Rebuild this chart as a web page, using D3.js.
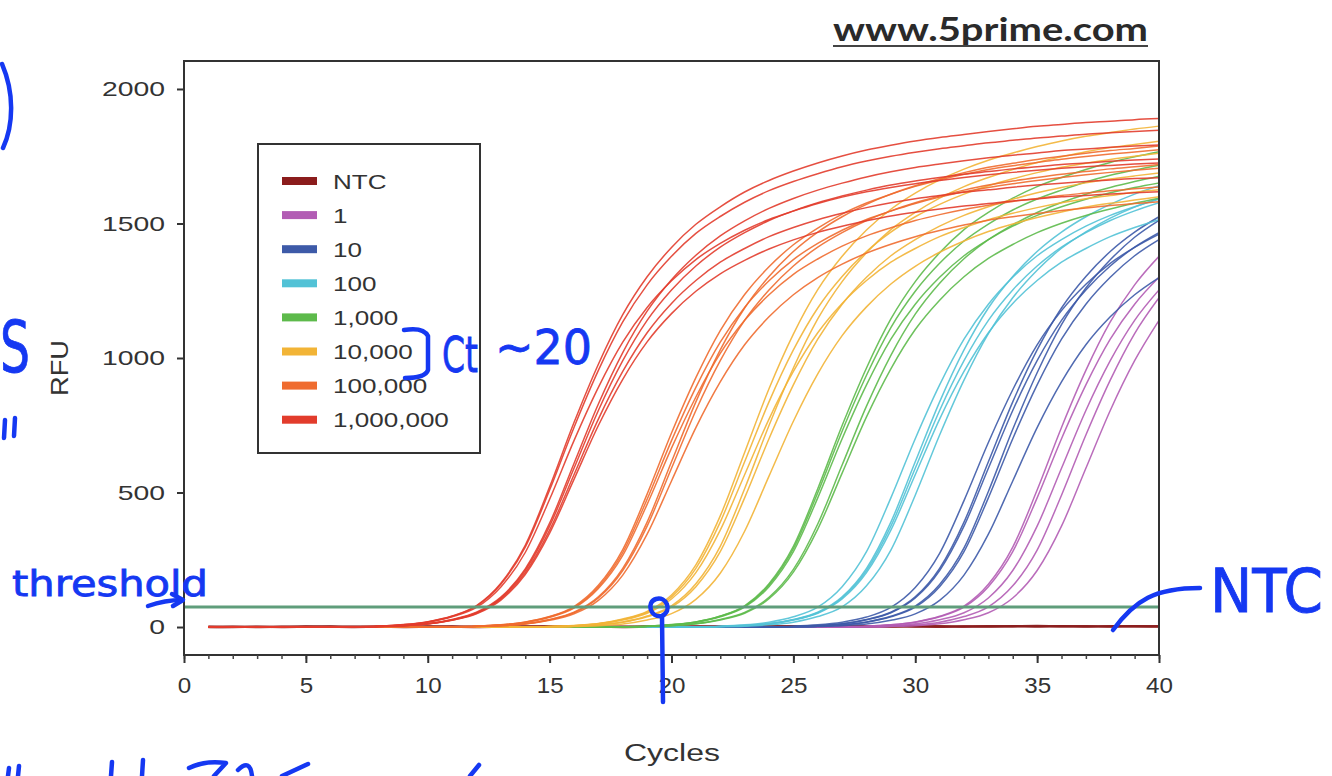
<!DOCTYPE html>
<html>
<head>
<meta charset="utf-8">
<script src="https://cdn.jsdelivr.net/npm/d3@7"></script>
<style>
  body { margin: 0; background: #fff; }
  svg { display: block; }
  text { font-family: "Liberation Sans", Arial, sans-serif; fill: #333; }
</style>
</head>
<body>
<svg id="chart" width="1332" height="776"></svg>
<script>
/* ............................................................
   qPCR amplification plot : RFU vs Cycles, 10-fold dilutions
   ............................................................ */

// x categories (cycle numbers)
var cycles = [1,2,3,4,5,6,7,8,9,10,11,12,13,14,15,16,17,18,19,20,
              21,22,23,24,25,26,27,28,29,30,31,32,33,34,35,36,37,38,39,40];

var dilutions = ["NTC", "1", "10", "100", "1,000", "10,000", "100,000", "1,000,000"];
var palette   = ["#8b1c1c", "#b25cb4", "#3d5aa8", "#52c2d6", "#5dba4b", "#f2b436", "#ef6c2f", "#e23c2c"];

var yTicks = [0, 500, 1000, 1500, 2000];
var xTicks = [0, 5, 10, 15, 20, 25, 30, 35, 40];
var threshold = 74;

// RFU read per cycle, one array per replicate well
var rfuNTC = [
  [0,1,0,1,2,1,0,1,1,2,1,0,1,2,2,1,1,0,1,2,1,1,2,3,2,1,2,2,3,2,1,2,3,3,2,3,2,3,3,2],
  [1,0,1,0,1,2,1,1,0,1,2,1,1,1,2,2,1,1,2,1,2,2,1,2,3,2,2,3,2,3,3,2,2,3,4,3,3,2,3,3]
];

var rfu1 = [
  [0,0,0,0,0,0,0,0,0,0,0,0,0,0,0,0,0,0,0,0,0,0,0,0,0,0,1,3,8,18,38,74,150,280,480,700,900,1070,1200,1300],
  [0,0,0,0,0,0,0,0,0,0,0,0,0,0,0,0,0,0,0,0,0,0,0,0,0,0,0,2,5,12,27,53,108,210,375,590,805,990,1140,1253],
  [0,0,0,0,0,0,0,0,0,0,0,0,0,0,0,0,0,0,0,0,0,0,0,0,0,0,0,1,3,8,18,39,75,153,286,490,714,918,1091,1224],
  [0,0,0,0,0,0,0,0,0,0,0,0,0,0,0,0,0,0,0,0,0,0,0,0,0,0,0,0,2,5,12,27,53,108,210,375,590,805,990,1140],
  [0,0,0,0,0,0,0,0,0,0,0,0,0,0,0,0,0,0,0,0,0,0,0,0,0,0,1,3,8,19,40,78,159,297,509,742,954,1134,1272,1378]
];

var rfu10 = [
  [0,0,0,0,0,0,0,0,0,0,0,0,0,0,0,0,0,0,0,0,0,0,0,0,2,5,12,28,55,112,218,390,614,837,1030,1186,1303,1396,1468,1525],
  [0,0,0,0,0,0,0,0,0,0,0,0,0,0,0,0,0,0,0,0,0,0,0,0,2,5,12,27,53,108,210,375,590,805,990,1140,1253,1342,1412,1466],
  [0,0,0,0,0,0,0,0,0,0,0,0,0,0,0,0,0,0,0,0,0,0,0,0,1,3,8,18,38,74,150,280,480,700,900,1070,1200,1300,1380,1440],
  [0,0,0,0,0,0,0,0,0,0,0,0,0,0,0,0,0,0,0,0,0,0,0,1,3,8,18,37,73,147,274,470,686,882,1049,1176,1274,1352,1411,1460],
  [0,0,0,0,0,0,0,0,0,0,0,0,0,0,0,0,0,0,0,0,0,0,0,0,0,2,5,11,25,49,99,193,345,543,741,911,1049,1153,1235,1299],
  [0,0,0,0,0,0,0,0,0,0,0,0,0,0,0,0,0,0,0,0,0,0,0,0,1,3,8,19,40,78,158,294,504,735,945,1124,1260,1365,1449,1512]
];

var rfu100 = [
  [0,0,0,0,0,0,0,0,0,0,0,0,0,0,0,0,0,0,0,0,0,2,5,12,28,55,112,218,390,614,837,1030,1186,1303,1396,1468,1525,1571,1609,1640],
  [0,0,0,0,0,0,0,0,0,0,0,0,0,0,0,0,0,0,0,0,0,2,5,12,27,53,108,210,375,590,805,990,1140,1253,1342,1412,1466,1511,1547,1577],
  [0,0,0,0,0,0,0,0,0,0,0,0,0,0,0,0,0,0,0,0,1,3,8,18,38,74,150,280,480,700,900,1070,1200,1300,1380,1440,1490,1530,1562,1590],
  [0,0,0,0,0,0,0,0,0,0,0,0,0,0,0,0,0,0,0,0,0,1,3,8,18,39,75,153,286,490,714,918,1091,1224,1326,1408,1469,1520,1561,1593],
  [0,0,0,0,0,0,0,0,0,0,0,0,0,0,0,0,0,0,0,0,0,2,5,12,26,51,104,202,360,566,773,950,1094,1203,1288,1356,1407,1451,1485,1514]
];

var rfu1k = [
  [0,0,0,0,0,0,0,0,0,0,0,0,0,0,0,0,0,1,3,8,19,40,77,156,291,499,728,936,1113,1248,1352,1435,1498,1550,1591,1624,1654,1679,1699,1717],
  [0,0,0,0,0,0,0,0,0,0,0,0,0,0,0,0,0,1,3,8,18,38,74,150,280,480,700,900,1070,1200,1300,1380,1440,1490,1530,1562,1590,1614,1634,1651],
  [0,0,0,0,0,0,0,0,0,0,0,0,0,0,0,0,0,0,2,5,12,28,54,110,214,383,602,821,1010,1163,1278,1369,1440,1495,1541,1578,1609,1634,1656,1676],
  [0,0,0,0,0,0,0,0,0,0,0,0,0,0,0,0,0,1,3,9,19,41,79,161,300,514,749,963,1145,1284,1391,1477,1541,1594,1637,1671,1701,1727,1748,1767],
  [0,0,0,0,0,0,0,0,0,0,0,0,0,0,0,0,0,0,2,5,12,26,51,105,204,364,572,781,960,1106,1215,1302,1370,1422,1466,1501,1530,1554,1575,1594]
];

var rfu10k = [
  [0,0,0,0,0,0,0,0,0,0,0,0,0,0,2,6,13,30,58,119,231,413,649,886,1089,1254,1378,1476,1553,1613,1662,1702,1735,1762,1786,1807,1824,1838,1851,1862],
  [0,0,0,0,0,0,0,0,0,0,0,0,0,0,2,5,12,28,55,112,218,390,614,837,1030,1186,1303,1396,1468,1525,1571,1609,1640,1666,1689,1709,1724,1738,1750,1761],
  [0,0,0,0,0,0,0,0,0,0,0,0,0,0,1,3,8,18,38,74,150,280,480,700,900,1070,1200,1300,1380,1440,1490,1530,1562,1590,1614,1634,1651,1665,1677,1688],
  [0,0,0,0,0,0,0,0,0,0,0,0,0,0,1,3,9,19,41,79,161,300,514,749,963,1145,1284,1391,1477,1541,1594,1637,1671,1701,1727,1748,1767,1782,1794,1806],
  [0,0,0,0,0,0,0,0,0,0,0,0,0,0,2,5,12,26,51,104,202,360,566,773,950,1094,1203,1288,1356,1407,1451,1485,1514,1538,1559,1577,1592,1604,1616,1625],
  [0,0,0,0,0,0,0,0,0,0,0,0,0,0,0,2,5,11,26,50,103,200,356,561,765,941,1083,1190,1275,1341,1393,1435,1470,1498,1522,1543,1561,1575,1587,1599]
];

var rfu100k = [
  [0,0,0,0,0,0,0,0,0,0,1,3,8,19,39,76,155,288,494,721,927,1102,1236,1339,1421,1483,1535,1576,1609,1638,1662,1683,1701,1715,1727,1739,1749,1758,1766,1774],
  [0,0,0,0,0,0,0,0,0,0,1,3,8,18,38,73,149,277,475,693,891,1059,1188,1287,1366,1426,1475,1515,1546,1574,1598,1618,1634,1648,1660,1671,1681,1690,1698,1705],
  [0,0,0,0,0,0,0,0,0,0,0,2,5,12,27,53,108,210,375,590,805,990,1140,1253,1342,1412,1466,1511,1547,1577,1602,1624,1643,1658,1671,1683,1693,1703,1711,1719],
  [0,0,0,0,0,0,0,0,0,0,0,2,5,12,28,55,112,218,390,614,837,1030,1186,1303,1396,1468,1525,1571,1609,1640,1666,1689,1709,1724,1738,1750,1761,1771,1779,1788],
  [0,0,0,0,0,0,0,0,0,0,1,3,8,17,36,70,143,266,456,665,855,1017,1140,1235,1311,1368,1416,1454,1484,1511,1533,1552,1568,1582,1593,1604,1613,1622,1629,1636],
  [0,0,0,0,0,0,0,0,0,0,0,2,5,11,25,49,99,193,345,543,741,911,1049,1153,1235,1299,1349,1390,1423,1451,1474,1494,1512,1525,1537,1548,1558,1567,1574,1581]
];

var rfu1M = [
  [0,0,0,0,0,0,1,3,9,20,41,80,163,304,521,760,977,1161,1302,1411,1497,1562,1617,1660,1695,1725,1751,1773,1791,1807,1820,1831,1842,1852,1861,1868,1875,1880,1886,1890],
  [0,0,0,0,0,0,1,3,8,19,40,78,159,297,509,742,954,1134,1272,1378,1463,1526,1579,1622,1656,1685,1711,1732,1750,1765,1778,1789,1800,1809,1818,1825,1832,1837,1842,1847],
  [0,0,0,0,0,0,0,2,5,12,27,53,108,210,375,590,805,990,1140,1253,1342,1412,1466,1511,1547,1577,1602,1624,1643,1658,1671,1683,1693,1703,1711,1719,1725,1731,1736,1740],
  [0,0,0,0,0,0,0,2,5,12,26,51,104,202,360,566,773,950,1094,1203,1288,1356,1407,1451,1485,1514,1538,1559,1577,1592,1604,1616,1625,1635,1643,1650,1656,1662,1667,1670],
  [0,0,0,0,0,0,1,3,8,18,38,73,149,277,475,693,891,1059,1188,1287,1366,1426,1475,1515,1546,1574,1598,1618,1634,1648,1660,1671,1681,1690,1698,1705,1711,1716,1721,1725],
  [0,0,0,0,0,0,0,2,5,12,28,55,111,216,386,608,829,1020,1174,1291,1382,1454,1510,1556,1593,1624,1650,1673,1692,1708,1721,1733,1744,1754,1762,1771,1777,1783,1788,1792],
  [0,0,0,0,0,0,0,2,5,11,25,49,100,195,349,549,749,921,1060,1165,1248,1313,1363,1405,1439,1467,1490,1510,1528,1542,1554,1565,1574,1584,1591,1599,1604,1610,1614,1618]
];

// same order as dilutions / palette (NTC drawn first, 1,000,000 on top)
var runs = [rfuNTC, rfu1, rfu10, rfu100, rfu1k, rfu10k, rfu100k, rfu1M];

/*............................................................*/
var plotL = 184, plotR = 1159, plotT = 61, plotB = 655;

var svg = d3.select("#chart");

var x = d3.scaleLinear().domain([0, 40]).range([plotL, plotR]);
var y = d3.scaleLinear().domain([-104, 2104]).range([plotB, plotT]);

// the source picture is stretched sideways, so widen text the same way
function stretch(sel, k) {
  sel.each(function() {
    var w = this.getComputedTextLength();
    d3.select(this).attr("textLength", w * k).attr("lengthAdjust", "spacingAndGlyphs");
  });
}

svg.append("clipPath").attr("id", "plotClip")
  .append("rect")
    .attr("x", plotL).attr("y", plotT)
    .attr("width", plotR - plotL).attr("height", plotB - plotT);

var line = d3.line()
    .x(function(d, i) { return x(cycles[i]); })
    .y(function(d) { return y(d); })
    .curve(d3.curveMonotoneX);

var plot = svg.append("g").attr("clip-path", "url(#plotClip)");

runs.forEach(function(wells, k) {
  plot.append("g")
      .attr("class", "dilution")
    .selectAll("path")
      .data(wells)
    .enter().append("path")
      .attr("d", line)
      .attr("fill", "none")
      .attr("stroke", palette[k])
      .attr("stroke-width", k === 0 ? 2.4 : 1.5)
      .attr("stroke-opacity", 0.9);
});

// threshold
plot.append("line")
    .attr("x1", x(0)).attr("x2", x(40))
    .attr("y1", y(threshold)).attr("y2", y(threshold))
    .attr("stroke", "#5f9d7b")
    .attr("stroke-width", 3);

// frame
svg.append("rect")
    .attr("x", plotL).attr("y", plotT)
    .attr("width", plotR - plotL).attr("height", plotB - plotT)
    .attr("fill", "none")
    .attr("stroke", "#333")
    .attr("stroke-width", 2);

// y axis
var gy = svg.append("g")
    .attr("transform", "translate(" + plotL + ",0)")
    .call(d3.axisLeft(y).tickValues(yTicks).tickSize(7).tickPadding(12).tickFormat(d3.format("d")));
gy.attr("font-family", null).attr("font-size", null).attr("color", "#333");
gy.select(".domain").remove();
gy.selectAll(".tick line").attr("stroke-width", 2);
gy.selectAll("text").style("font-size", "21px");
stretch(gy.selectAll("text"), 1.35);

// x axis, minor ticks each cycle then labelled major ticks
var gxMinor = svg.append("g")
    .attr("transform", "translate(0," + plotB + ")")
    .call(d3.axisBottom(x).tickValues(d3.range(0, 41)).tickSize(4).tickFormat(""));
gxMinor.attr("color", "#444");
gxMinor.select(".domain").remove();
gxMinor.selectAll(".tick line").attr("stroke-width", 1.5);

var gx = svg.append("g")
    .attr("transform", "translate(0," + plotB + ")")
    .call(d3.axisBottom(x).tickValues(xTicks).tickSize(8).tickPadding(14));
gx.attr("font-family", null).attr("font-size", null).attr("color", "#333");
gx.select(".domain").remove();
gx.selectAll(".tick line").attr("stroke-width", 2);
gx.selectAll("text").style("font-size", "22px");
stretch(gx.selectAll("text"), 1.1);

// axis titles
svg.append("text")
    .attr("transform", "translate(68,368) rotate(-90)")
    .attr("text-anchor", "middle")
    .style("font-size", "23px")
    .attr("textLength", 56).attr("lengthAdjust", "spacingAndGlyphs")
    .text("RFU");

svg.append("text")
    .attr("x", 672).attr("y", 761)
    .attr("text-anchor", "middle")
    .style("font-size", "23px")
    .attr("textLength", 96).attr("lengthAdjust", "spacingAndGlyphs")
    .text("Cycles");

// legend
var legend = svg.append("g").attr("class", "legend");
legend.append("rect")
    .attr("x", 258).attr("y", 144)
    .attr("width", 222).attr("height", 309)
    .attr("fill", "#fff")
    .attr("stroke", "#333")
    .attr("stroke-width", 2);

var rows = legend.selectAll(".row")
    .data(dilutions)
  .enter().append("g")
    .attr("class", "row")
    .attr("transform", function(d, i) { return "translate(282," + (181 + i * 34.1) + ")"; });

rows.append("rect")
    .attr("x", 0).attr("y", -4)
    .attr("width", 35).attr("height", 8)
    .attr("fill", function(d, i) { return palette[i]; });

rows.append("text")
    .attr("x", 51).attr("dy", "0.36em")
    .style("font-size", "21px")
    .text(function(d) { return d; });
stretch(rows.selectAll("text"), 1.24);

// site credit
svg.append("text")
    .attr("x", 833).attr("y", 41)
    .style("font-family", "Lato, 'Open Sans', sans-serif")
    .style("font-size", "33px")
    .style("font-weight", "bold")
    .style("fill", "#2a2a2a")
    .attr("textLength", 315).attr("lengthAdjust", "spacingAndGlyphs")
    .text("www.5prime.com");
svg.append("line")
    .attr("x1", 833).attr("x2", 1148)
    .attr("y1", 46).attr("y2", 46)
    .attr("stroke", "#444").attr("stroke-width", 2);

/*............ hand-written notes over the plot ..............*/
var ink = "#1538f2";
var notes = svg.append("g").attr("class", "notes");

function pen(d) {
  notes.append("path")
      .attr("d", d)
      .attr("fill", "none")
      .attr("stroke", ink)
      .attr("stroke-width", 4.5)
      .attr("stroke-linecap", "round")
      .attr("stroke-linejoin", "round");
}

function scribble(txt, px, py, size, width) {
  notes.append("text")
      .attr("x", px).attr("y", py)
      .style("font-family", "'DejaVu Sans', sans-serif")
      .style("font-size", size + "px")
      .style("fill", ink)
      .style("stroke", ink)
      .style("stroke-width", 0.8)
      .attr("textLength", width).attr("lengthAdjust", "spacingAndGlyphs")
      .text(txt);
}

// left edge fragments
pen("M2,64 C14,92 14,124 3,148");
scribble("S", 0, 372, 72, 30);
pen("M5,420 L4,438");
pen("M15,418 L14,436");

// threshold + arrow
scribble("threshold", 12, 596, 36, 196);
pen("M148,606 Q165,600 182,600");
pen("M172,594 L183,600 L173,606");

// Ct bracket and note
pen("M404,330 C416,328 425,330 428,336 L428,370 C426,376 416,378 405,378");
scribble("Ct", 442, 372, 50, 36);
scribble("~20", 495, 364, 48, 97);

// Ct marker at cycle ~20
pen("M663,702 L662,616");
pen("M662,616 C650,618 646,602 656,599 C666,596 673,610 662,616");

// NTC pointer
pen("M1113,630 C1135,600 1155,588 1200,588");
scribble("NTC", 1210, 612, 60, 113);

// cut-off writing at bottom edge
pen("M9,768 L8,776");
pen("M19,766 L18,776");
pen("M112,762 L111,776");
pen("M143,760 L142,776");
pen("M189,768 Q205,760 226,763 L214,776");
pen("M238,770 Q250,758 252,776");
pen("M282,776 L308,764");
pen("M470,776 L479,765");
</script>
</body>
</html>
